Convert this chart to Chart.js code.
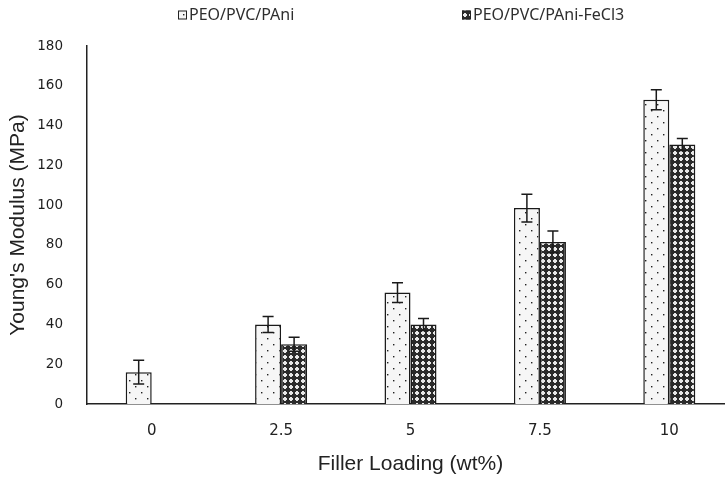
<!DOCTYPE html>
<html>
<head>
  <meta charset="UTF-8">
  <title>Young's Modulus vs Filler Loading</title>
  <script src="https://cdn.jsdelivr.net/npm/chart.js"></script>
  <style>
    html, body { margin: 0; padding: 0; background: #fff; overflow: hidden; }
    #wrap { width: 740px; height: 477px; }
  </style>
</head>
<body>
  <div id="wrap"><canvas id="chart"></canvas></div>
  <script>
    // data
    const loadings = ['0', '2.5', '5', '7.5', '10'];
    const seriesNames = ['PEO/PVC/PAni', 'PEO/PVC/PAni-FeCl3'];
    const pani = [16, 40, 56, 98.5, 153];
    const paniErr = [6, 4, 5, 7, 5];
    const paniFe = [null, 30, 40, 81.5, 130.5];
    const paniFeErr = [null, 3.5, 3, 5.5, 3];
    const yTicks = { min: 0, max: 180, step: 20 };

    // fill patterns (dotted and dense hatch)
    const makePattern = (size, draw) => {
      const c = document.createElement('canvas');
      c.width = size.w; c.height = size.h;
      const g = c.getContext('2d');
      draw(g);
      return document.getElementById('chart').getContext('2d').createPattern(c, 'repeat');
    };

    const dotted = makePattern({ w: 12, h: 12 }, (g) => {
      g.fillStyle = '#f6f6f6';
      g.fillRect(0, 0, 12, 12);
      g.fillStyle = '#222';
      g.fillRect(3, 2, 1.4, 1.4);
      g.fillRect(9, 8, 1.4, 1.4);
    });

    const hatch = makePattern({ w: 6, h: 6 }, (g) => {
      g.fillStyle = '#2b2b2b';
      g.fillRect(0, 0, 6, 6);
      g.fillStyle = '#e8e8e8';
      g.fillRect(2, 1, 2, 4);
      g.fillRect(1, 2, 4, 2);
    });

    const errorBars = {
      id: 'errorBars',
      afterDatasetsDraw(chart) {
        const { ctx, scales: { y } } = chart;
        ctx.save();
        ctx.strokeStyle = '#1a1a1a';
        ctx.lineWidth = 1.5;
        chart.data.datasets.forEach((ds, di) => {
          const meta = chart.getDatasetMeta(di);
          meta.data.forEach((bar, i) => {
            const v = ds.data[i], e = ds.errors[i];
            if (v == null || e == null) return;
            const top = y.getPixelForValue(v + e);
            const bot = y.getPixelForValue(v - e);
            const half = 5.5;
            ctx.beginPath();
            ctx.moveTo(bar.x, top); ctx.lineTo(bar.x, bot);
            ctx.moveTo(bar.x - half, top); ctx.lineTo(bar.x + half, top);
            ctx.moveTo(bar.x - half, bot); ctx.lineTo(bar.x + half, bot);
            ctx.stroke();
          });
        });
        ctx.restore();
      }
    };

    // legend row drawn across the top, like the original
    const legendX = [178, 462];
    const topLegend = {
      id: 'topLegend',
      afterDraw(chart) {
        const ctx = chart.ctx;
        ctx.save();
        ctx.font = '16px "Noto Sans"';
        ctx.textBaseline = 'middle';
        chart.data.datasets.forEach((ds, i) => {
          const x = legendX[i], y = 15;
          ctx.fillStyle = ds.backgroundColor;
          ctx.fillRect(x, y - 4.5, 9, 9);
          ctx.strokeStyle = '#222';
          ctx.lineWidth = 1;
          ctx.strokeRect(x + 0.5, y - 4, 8, 8);
          ctx.fillStyle = '#2e2e2e';
          ctx.fillText(ds.label, x + 11, y);
        });
        ctx.restore();
      }
    };

    new Chart(document.getElementById('chart'), {
      type: 'bar',
      data: {
        labels: loadings,
        datasets: [
          {
            label: seriesNames[0],
            data: pani,
            errors: paniErr,
            backgroundColor: dotted,
            borderColor: '#1a1a1a',
            borderWidth: 1.5
          },
          {
            label: seriesNames[1],
            data: paniFe,
            errors: paniFeErr,
            backgroundColor: hatch,
            borderColor: '#1a1a1a',
            borderWidth: 1.5
          }
        ]
      },
      options: {
        responsive: true,
        maintainAspectRatio: false,
        animation: false,
        layout: { padding: { top: 46, right: 6, bottom: 0, left: 0 } },
        datasets: {
          bar: { categoryPercentage: 0.402, barPercentage: 1 }
        },
        plugins: {
          legend: { display: false },
          tooltip: { enabled: false }
        },
        scales: {
          x: {
            afterFit: (scale) => { scale.height = 73; },
            grid: { display: false, drawTicks: false },
            border: { display: true, color: '#222', width: 1.5 },
            ticks: {
              padding: 18,
              color: '#222',
              font: { family: 'DejaVu Sans', size: 15 }
            },
            title: {
              display: true,
              text: 'Filler Loading (wt%)',
              color: '#222',
              font: { family: 'Liberation Sans', size: 21 },
              padding: { top: 0, bottom: 0 }
            }
          },
          y: {
            min: yTicks.min,
            max: yTicks.max,
            afterFit: (scale) => { scale.width = 87; },
            grid: { display: false, drawOnChartArea: false, drawTicks: true, tickLength: 6, tickColor: '#222' },
            border: { display: true, color: '#222', width: 1.5 },
            ticks: {
              stepSize: yTicks.step,
              padding: 18,
              color: '#1e1e1e',
              font: { family: 'DejaVu Sans', size: 13.5 }
            },
            title: {
              display: true,
              text: "Young's Modulus (MPa)",
              color: '#222',
              font: { family: 'Liberation Sans', size: 21 },
              padding: { top: 6, bottom: 0 }
            }
          }
        }
      },
      plugins: [errorBars, topLegend]
    });
  </script>
</body>
</html>
